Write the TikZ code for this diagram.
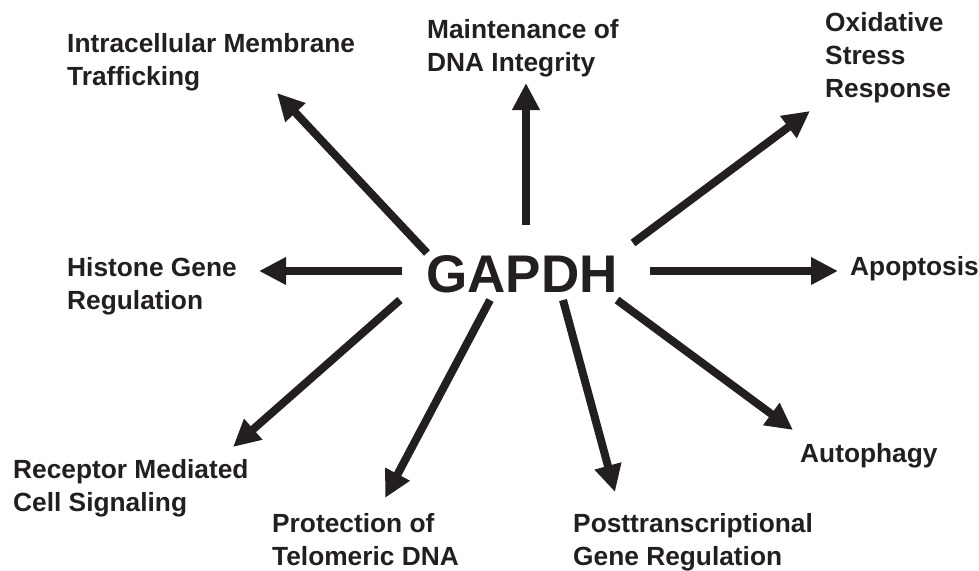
\documentclass[tikz,border=0pt]{standalone}
\usepackage{fontspec}
\setmainfont{Liberation Sans}
\usetikzlibrary{arrows.meta}
\definecolor{ink}{HTML}{231F20}
\tikzset{
  lab/.style={anchor=base west, inner sep=0pt, align=left, text=ink,
    font=\fontsize{26.3}{33}\selectfont\bfseries},
  arr/.style={draw=ink, line width=8pt,
    -{Triangle[length=27pt,width=26pt]}},
  hub/.style={anchor=base, inner sep=0pt, text=ink,
    font=\fontsize{53}{60}\selectfont\bfseries}
}
\begin{document}
\begin{tikzpicture}[x=1pt,y=-1pt]
\useasboundingbox (0,0) rectangle (979,570);
% labels (anchor = baseline of last line)
\node[hub] (g) at (522,292) {GAPDH};
\node[lab] (intr) at (67,85) {Intracellular Membrane\\Trafficking};
\node[lab] (maint) at (427,71) {Maintenance of\\DNA Integrity};
\node[lab] (oxid) at (825,97) {Oxidative\\Stress\\Response};
\node[lab] (hist) at (67,309) {Histone Gene\\Regulation};
\node[lab] (apop) at (850,275) {Apoptosis};
\node[lab] (recep) at (13,511) {Receptor Mediated\\Cell Signaling};
\node[lab] (prot) at (272,565) {Protection of\\Telomeric DNA};
\node[lab] (post) at (573,565) {Posttranscriptional\\Gene Regulation};
\node[lab] (auto) at (800,462) {Autophagy};
% arrow ends
\coordinate (s1) at (526,225); \coordinate (t1) at (526,83);
\coordinate (s2) at (427,253); \coordinate (t2) at (277,93);
\coordinate (s3) at (633,243); \coordinate (t3) at (810,111);
\coordinate (s4) at (650,271); \coordinate (t4) at (838,271);
\coordinate (s5) at (402,271); \coordinate (t5) at (259,271);
\coordinate (s6) at (400,300); \coordinate (t6) at (233,447);
\coordinate (s7) at (490,300); \coordinate (t7) at (385,498);
\coordinate (s8) at (563,300); \coordinate (t8) at (615,492);
\coordinate (s9) at (617,300); \coordinate (t9) at (793,430);
\foreach \i in {1,...,9} \draw[arr] (s\i) -- (t\i);
\end{tikzpicture}
\end{document}
